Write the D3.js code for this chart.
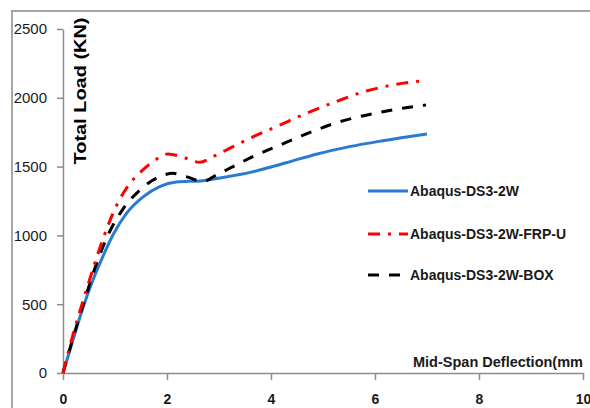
<!DOCTYPE html>
<html><head><meta charset="utf-8">
<script src="https://cdn.jsdelivr.net/npm/d3@7"></script>
<style>
html,body{margin:0;padding:0;background:#fff;}
svg{display:block;}
text{font-family:"Liberation Sans",Arial,sans-serif;}
</style></head>
<body>
<svg id="chart" width="590" height="408"></svg>
<script>
const xTicks = [0, 2, 4, 6, 8, 10];
const yTicks = [0, 500, 1000, 1500, 2000, 2500];
const seriesNames = ["Abaqus-DS3-2W", "Abaqus-DS3-2W-FRP-U", "Abaqus-DS3-2W-BOX"];
const xTitle = "Mid-Span Deflection(mm";
const yTitle = "Total Load (KN)";
const blueX = [0, 0.2, 0.38, 0.58, 0.77, 0.97, 1.22, 1.54, 1.86, 2.18, 2.69, 3.14, 3.6, 4.0, 4.4, 4.87, 5.51, 6.15, 7.0];
const blueY = [0, 250, 470, 680, 850, 1010, 1160, 1280, 1355, 1388, 1398, 1425, 1458, 1497, 1540, 1590, 1645, 1688, 1737];
const redX = [0, 0.2, 0.39, 0.58, 0.77, 1.06, 1.29, 1.48, 1.73, 2.02, 2.31, 2.63, 2.88, 3.27, 3.62, 4.1, 4.68, 5.25, 5.83, 6.34, 6.95];
const redY = [0, 290, 530, 760, 975, 1240, 1379, 1456, 1536, 1592, 1568, 1531, 1572, 1645, 1710, 1790, 1887, 1972, 2049, 2093, 2125];
const blackX = [0, 0.2, 0.4, 0.58, 0.9, 1.16, 1.48, 1.86, 2.12, 2.37, 2.69, 2.95, 3.33, 3.68, 4.1, 4.55, 4.87, 5.32, 5.7, 6.15, 6.53, 6.98];
const blackY = [0, 265, 510, 725, 1030, 1195, 1330, 1427, 1451, 1427, 1392, 1439, 1512, 1578, 1645, 1717, 1766, 1826, 1863, 1899, 1924, 1948];

const svg = d3.select("#chart");
const x = d3.scaleLinear().domain([0, 10]).range([63, 583]);
const y = d3.scaleLinear().domain([0, 2500]).range([373, 29]);

// outer frame
svg.append("path").attr("d", "M12,408 L12,11 L590,11")
  .attr("fill", "none").attr("stroke", "#a6a6a6").attr("stroke-width", 2);

const axisColor = "#8c8c8c";
// Y axis
const gy = svg.append("g").attr("transform", "translate(63,0)")
  .call(d3.axisLeft(y).tickValues(yTicks).tickSize(6).tickSizeOuter(0).tickPadding(10).tickFormat(d3.format("d")));
gy.select(".domain").attr("stroke", axisColor).attr("stroke-width", 1.5);
gy.selectAll(".tick line").attr("stroke", axisColor).attr("stroke-width", 1.5);
gy.selectAll(".tick text").attr("font-size", 15).attr("fill", "#1a1a1a")
  .attr("font-family", "Liberation Sans, Arial, sans-serif").attr("x", -16);

// X axis
const gx = svg.append("g").attr("transform", "translate(0,373)")
  .call(d3.axisBottom(x).tickValues(xTicks).tickSize(7).tickSizeOuter(0).tickPadding(14).tickFormat(d3.format("d")));
gx.select(".domain").attr("stroke", axisColor).attr("stroke-width", 1.5);
gx.selectAll(".tick line").attr("stroke", axisColor).attr("stroke-width", 1.5);
gx.selectAll(".tick text").attr("font-size", 14).attr("font-weight", "bold").attr("fill", "#1a1a1a")
  .attr("font-family", "Liberation Sans, Arial, sans-serif");

// axis titles
svg.append("text").attr("transform", "translate(86,91) rotate(-90)")
  .attr("text-anchor", "middle").attr("font-size", 17).attr("font-weight", "bold")
  .attr("textLength", 147).attr("lengthAdjust", "spacingAndGlyphs")
  .text(yTitle);
svg.append("text").attr("x", 413).attr("y", 367)
  .attr("font-size", 14.5).attr("font-weight", "bold").attr("fill", "#1a1a1a")
  .text(xTitle);

const line = d3.line().x(d => x(d[0])).y(d => y(d[1])).curve(d3.curveMonotoneX);
const series = [
  {name: seriesNames[0], xs: blueX, ys: blueY, color: "#2a7ad2", dash: null, width: 3},
  {name: seriesNames[1], xs: redX, ys: redY, color: "#ff0000", dash: "12 8 3 8", width: 3},
  {name: seriesNames[2], xs: blackX, ys: blackY, color: "#000000", dash: "11 10", width: 3}
];
const drawOrder = [0, 2, 1];
drawOrder.forEach(i => {
  const s = series[i];
  const pts = s.xs.map((v, k) => [v, s.ys[k]]);
  svg.append("path").datum(pts).attr("d", line)
    .attr("fill", "none").attr("stroke", s.color).attr("stroke-width", s.width)
    .attr("stroke-dasharray", s.dash);
});

// legend
const legY = [191, 234, 275];
series.forEach((s, i) => {
  const g = svg.append("g").attr("transform", `translate(0,${legY[i]})`);
  g.append("line").attr("x1", 368).attr("x2", 408).attr("y1", 0).attr("y2", 0)
    .attr("stroke", s.color).attr("stroke-width", 3).attr("stroke-dasharray", s.dash);
  g.append("text").attr("x", 410).attr("y", 5).attr("font-size", 14).attr("font-weight", "bold")
    .attr("fill", "#1a1a1a").text(s.name);
});
</script>
</body></html>
